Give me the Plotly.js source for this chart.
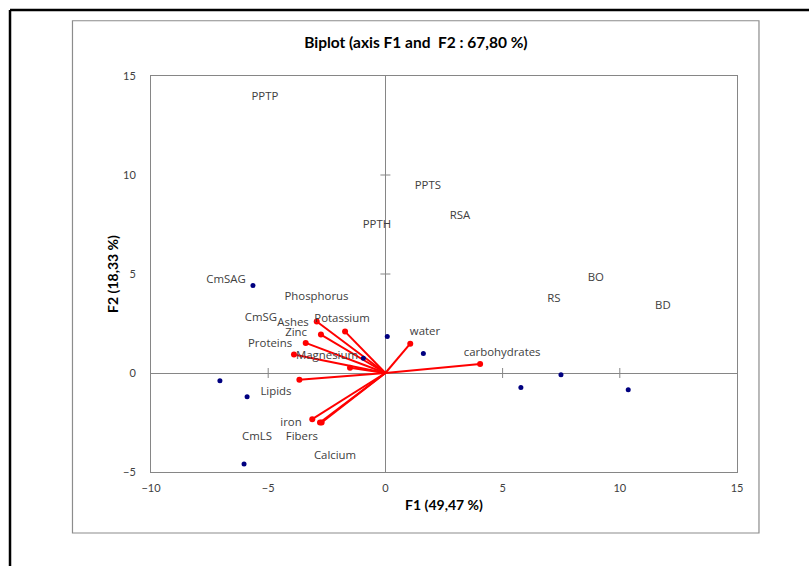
<!DOCTYPE html>
<html>
<head>
<meta charset="utf-8">
<script src="https://cdn.plot.ly/plotly-3.0.1.min.js"></script>
<style>html,body{margin:0;padding:0;background:#fff;}#chart{width:809px;height:566px;}</style>
</head>
<body>
<div id="chart"></div>
<script>
// Observations (F1, F2 scores)
const obsX = [-5.65, -7.06, -5.90, -6.03, 0.08, -0.94, 1.62, 5.78, 7.49, 10.36];
const obsY = [4.42, -0.39, -1.20, -4.59, 1.84, 0.74, 0.99, -0.73, -0.09, -0.85];
// Observation labels (as placed in the chart)
const obsNames = ["PPTP", "PPTS", "RSA", "PPTH", "BO", "RS", "BD", "CmSAG", "CmSG", "CmLS"];
const obsLabelX = [-5.14, 1.81, 3.18, -0.36, 8.98, 7.19, 11.84, -6.80, -5.31, -5.48];
const obsLabelY = [13.94, 9.43, 7.91, 7.46, 4.77, 3.71, 3.40, 4.67, 2.75, -3.23];
// Variables (arrow tips)
const varNames = ["Phosphorus", "Potassium", "Ashes", "Zinc", "Proteins", "Magnesium", "Lipids", "iron", "Fibers", "Calcium", "water", "carbohydrates"];
const varX = [-2.93, -1.72, -2.75, -3.40, -3.90, -1.51, -3.67, -3.12, -2.79, -2.72, 1.06, 4.04];
const varY = [2.60, 2.09, 1.94, 1.52, 0.93, 0.27, -0.34, -2.33, -2.50, -2.50, 1.48, 0.46];
// Variable labels (as placed in the chart)
const varLabelX = [-2.94, -1.85, -3.94, -3.81, -4.92, -2.49, -4.67, -4.03, -3.56, -2.15, 1.69, 4.98];
const varLabelY = [3.82, 2.70, 2.50, 1.99, 1.48, 0.83, -0.99, -2.55, -3.25, -4.19, 2.04, 0.98];
// Axis ticks
const xTicks = [-10, -5, 0, 5, 10, 15];
const yTicks = [-5, 0, 5, 10, 15];
const crossX = [-5, 5, 10];
const crossY = [5, 10];

const arrowX = [], arrowY = [];
varX.forEach((v, i) => { arrowX.push(0, v, null); arrowY.push(0, varY[i], null); });

const lblFont = {family: "Open Sans, sans-serif", size: 11.4, color: "#404040"};

const traces = [
  {x: arrowX, y: arrowY, mode: "lines", line: {color: "#ff0000", width: 2}, hoverinfo: "skip", showlegend: false},
  {x: varX, y: varY, mode: "markers", marker: {color: "#ff0000", size: 6}, showlegend: false},
  {x: obsX, y: obsY, mode: "markers", marker: {color: "#000080", size: 5}, showlegend: false},
  {x: varLabelX, y: varLabelY, mode: "text", text: varNames, textfont: lblFont, showlegend: false},
  {x: obsLabelX, y: obsLabelY, mode: "text", text: obsNames, textfont: lblFont, showlegend: false}
];

const shapes = [
  // outer black frame
  {type: "line", xref: "paper", yref: "paper", x0: -0.2406, x1: 1.2, y0: 1.1667, y1: 1.1667, line: {color: "#000", width: 2.5}},
  {type: "line", xref: "paper", yref: "paper", x0: -0.2406, x1: -0.2406, y0: 1.1667, y1: -0.3, line: {color: "#000", width: 2.5}},
  // gray chart box
  {type: "rect", xref: "paper", yref: "paper", x0: -0.134, x1: 1.0375, y0: -0.154, y1: 1.1395, line: {color: "#8c8c8c", width: 1.2}}
];
crossX.forEach(v => shapes.push({type: "line", xref: "x", yref: "y", x0: v, x1: v, ysizemode: "pixel", yanchor: 0, y0: -5, y1: 5, line: {color: "#868686", width: 1}}));
crossY.forEach(v => shapes.push({type: "line", xref: "x", yref: "y", y0: v, y1: v, xsizemode: "pixel", xanchor: 0, x0: -5, x1: 5, line: {color: "#868686", width: 1}}));

const layout = {
  width: 809, height: 566,
  margin: {l: 151, r: 72, t: 76, b: 94},
  paper_bgcolor: "#fff", plot_bgcolor: "#fff",
  showlegend: false,
  title: {text: "Biplot (axis F1 and  F2 : 67,80 %)", font: {family: "Lato, sans-serif", size: 15.5, color: "#000", weight: "bold"},
          x: 0.452, xref: "paper", xanchor: "center", y: 1 - 43/566, yanchor: "middle"},
  xaxis: {range: [-10, 15], tickvals: xTicks, ticks: "outside", ticklen: 6, tickcolor: "rgba(0,0,0,0)",
          showgrid: false, zeroline: true, zerolinecolor: "#868686", zerolinewidth: 1,
          showline: true, mirror: true, linecolor: "#868686", linewidth: 1,
          tickfont: {family: "Lato, sans-serif", size: 11, color: "#404040"},
          title: {text: "F1 (49,47 %)", font: {family: "Lato, sans-serif", size: 14, color: "#000", weight: "bold"}, standoff: 6},
          fixedrange: true},
  yaxis: {range: [-5, 15], tickvals: yTicks, ticks: "outside", ticklen: 12, tickcolor: "rgba(0,0,0,0)",
          showgrid: false, zeroline: true, zerolinecolor: "#868686", zerolinewidth: 1,
          showline: true, mirror: true, linecolor: "#868686", linewidth: 1,
          tickfont: {family: "Lato, sans-serif", size: 11, color: "#404040"},
          title: {text: "F2 (18,33 %)", font: {family: "Lato, sans-serif", size: 14, color: "#000", weight: "bold"}, standoff: 1},
          fixedrange: true},
  shapes: shapes
};

Plotly.newPlot("chart", traces, layout, {displayModeBar: false, staticPlot: true});
</script>
</body>
</html>
